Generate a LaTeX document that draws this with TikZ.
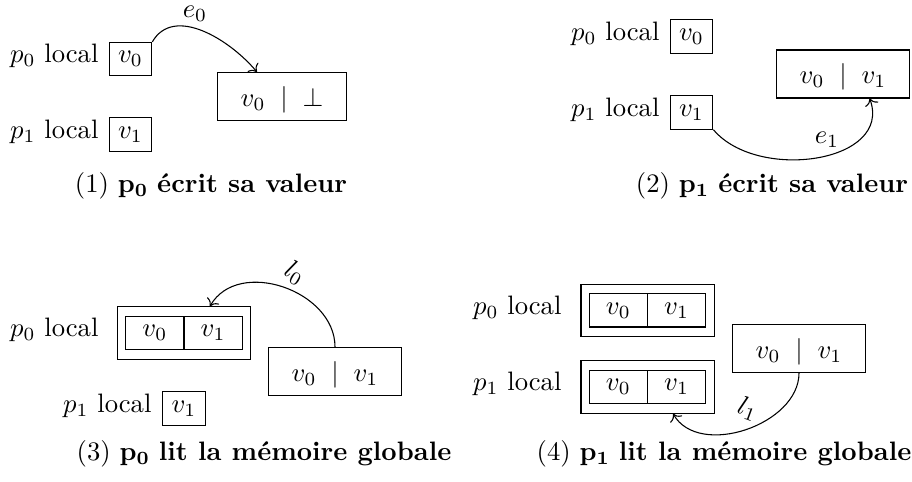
\documentclass[tikz,border=0pt]{standalone}
\usetikzlibrary{arrows.meta}
\begin{document}
\begin{tikzpicture}[x=0.375pt,y=-0.375pt,
  loc/.style={draw, inner sep=3.33pt},
  glob/.style={draw, inner xsep=8.8pt, inner ysep=0pt, text height=12.6pt, text depth=5.4pt},
  cell/.style={draw, minimum width=21.8pt, minimum height=12.4pt, inner sep=0pt},
  outerbox/.style={draw, minimum width=49.9pt, minimum height=19.7pt, inner sep=0pt},
  lab/.style={anchor=base east, inner sep=0pt},
  edgelab/.style={inner sep=1pt},
  captxt/.style={anchor=base, inner sep=0pt},
  arr/.style={->}]
\useasboundingbox (0,0) rectangle (912,482);

% Panel 1
\node[loc] (a0) at (130.5,59) {$v_0$};
\node[loc] (a1) at (130.5,134.5) {$v_1$};
\node[lab] (al0) at (99,62.7) {$p_0$ local};
\node[lab] (al1) at (99,138.2) {$p_1$ local};
\node[glob] (g1) at (282,96.5) {$v_0 \;\mid\; {\perp}$};
\draw[arr] (a0.north east) to[out=60,in=130] ([xshift=-9.4pt]g1.north);
\node[edgelab] (e0) at (195,14) {$e_0$};
\node[captxt] (cap1) at (211,193) {(1) $\mathbf{p_0}$ \textbf{écrit sa valeur}};

% Panel 2
\node[loc] (b0) at (691.5,36.5) {$v_0$};
\node[loc] (b1) at (691.5,112.5) {$v_1$};
\node[lab] (bl0) at (660,40.2) {$p_0$ local};
\node[lab] (bl1) at (660,116.2) {$p_1$ local};
\node[glob] (g2) at (843,74) {$v_0 \;\mid\; v_1$};
\draw[arr] (b1.south east) to[out=-50,in=-70,looseness=1.1] ([xshift=10pt]g2.south);
\node[edgelab] (e1) at (827,140) {$e_1$};
\node[captxt] (cap2) at (772,193) {(2) $\mathbf{p_1}$ \textbf{écrit sa valeur}};

% Panel 3
\node[outerbox] (o3) at (184,333) {};
\node[cell] (c30) at (154.9,333) {$v_0$};
\node[cell] (c31) at (213.1,333) {$v_1$};
\node[lab] (cl0) at (99,336.7) {$p_0$ local};
\node[loc] (c1) at (184,408.5) {$v_1$};
\node[lab] (cl1) at (152,412.2) {$p_1$ local};
\node[glob] (g3) at (335,371.5) {$v_0 \;\mid\; v_1$};
\draw[arr] (g3.north) to[out=90,in=60,looseness=1.1] ([xshift=9.75pt]o3.north);
\node[edgelab, rotate=-30] (l0) at (295,273) {$l_0$};
\node[captxt] (cap3) at (264,461) {(3) $\mathbf{p_0}$ \textbf{lit la mémoire globale}};

% Panel 4
\node[outerbox] (o40) at (647.5,310.5) {};
\node[cell] (d00) at (618.4,310.5) {$v_0$};
\node[cell] (d01) at (676.6,310.5) {$v_1$};
\node[outerbox] (o41) at (647.5,387) {};
\node[cell] (d10) at (618.4,387) {$v_0$};
\node[cell] (d11) at (676.6,387) {$v_1$};
\node[lab] (dl0) at (562,314.2) {$p_0$ local};
\node[lab] (dl1) at (562,390.7) {$p_1$ local};
\node[glob] (g4) at (799,348.5) {$v_0 \;\mid\; v_1$};
\draw[arr] (g4.south) to[out=-90,in=-60,looseness=1.0] ([xshift=9.6pt]o41.south);
\node[edgelab, rotate=-20] (l1) at (748,409) {$l_1$};
\node[captxt] (cap4) at (724,461) {(4) $\mathbf{p_1}$ \textbf{lit la mémoire globale}};
\end{tikzpicture}
\end{document}
